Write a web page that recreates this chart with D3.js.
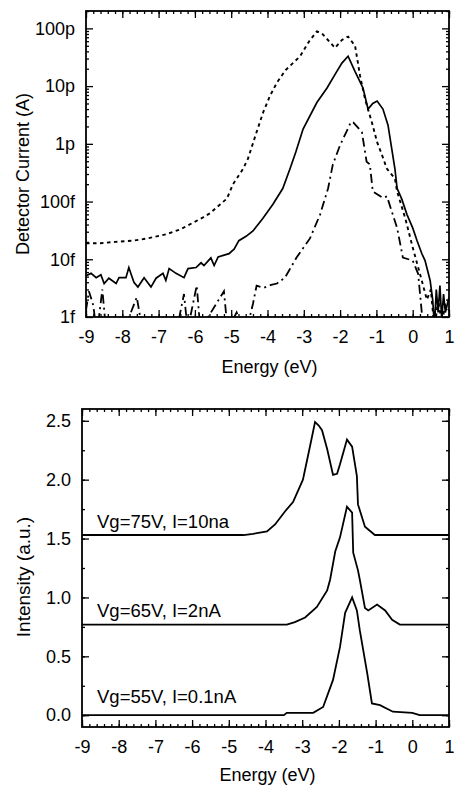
<!DOCTYPE html>
<html>
<head>
<meta charset="utf-8">
<script src="https://cdn.jsdelivr.net/npm/d3@7"></script>
<style>
  body { margin: 0; background: #fff; }
  svg { display: block; font-family: "Liberation Sans", Arial, sans-serif; }
  .tick text { font-size: 18px; fill: #000; }
</style>
</head>
<body>
<svg id="chart" width="454" height="785"></svg>
<script>
var width = 454,
    height = 785;

// x axis (both panels)
const energyTicks = [-9, -8, -7, -6, -5, -4, -3, -2, -1, 0, 1];

// top panel: log current ticks
const currentTicks = [1e-15, 1e-14, 1e-13, 1e-12, 1e-11, 1e-10];
const currentLabels = ["1f", "10f", "100f", "1p", "10p", "100p"];

// top panel series [energy eV, current A]
const current75 = [
    [-9, 19e-15], [-8.6, 19e-15], [-8.2, 20e-15], [-7.7, 21e-15], [-7.3, 23e-15], [-6.8, 27e-15],
    [-6.4, 33e-15], [-6.05, 43e-15], [-5.8, 52e-15], [-5.58, 63e-15], [-5.3, 90e-15], [-5.12, 112e-15],
    [-4.95, 200e-15], [-4.67, 370e-15], [-4.54, 550e-15], [-4.3, 1.6e-12], [-4.12, 3.5e-12],
    [-3.93, 6.8e-12], [-3.74, 11.5e-12], [-3.5, 19e-12], [-3.3, 25e-12], [-3.1, 33e-12],
    [-2.85, 60e-12], [-2.64, 89e-12], [-2.5, 82e-12], [-2.42, 72e-12], [-2.14, 46e-12],
    [-1.95, 63e-12], [-1.78, 72e-12], [-1.64, 55e-12], [-1.59, 51e-12], [-1.45, 15e-12],
    [-1.31, 5.9e-12], [-1.12, 2.3e-12], [-0.98, 1.07e-12], [-0.85, 650e-15], [-0.71, 370e-15],
    [-0.49, 250e-15], [-0.43, 150e-15], [-0.2, 50e-15], [0, 16e-15], [0.2, 5.6e-15], [0.39, 2e-15],
    [0.5, 3e-15], [0.6, 0.6e-15], [0.7, 2e-15], [0.8, 0.8e-15], [0.9, 1.6e-15], [1, 1.3e-15]
];
const current65 = [
    [-9, 5.2e-15], [-8.86, 5.7e-15], [-8.72, 4.8e-15], [-8.59, 5.4e-15], [-8.5, 3.8e-15], [-8.37, 4.7e-15],
    [-8.17, 3.8e-15], [-8.09, 4.8e-15], [-7.9, 4.8e-15], [-7.82, 7.2e-15], [-7.68, 4.0e-15],
    [-7.57, 3.3e-15], [-7.4, 4.8e-15], [-7.21, 3.3e-15], [-7.07, 4.7e-15], [-6.88, 5.7e-15],
    [-6.8, 4.3e-15], [-6.71, 6.9e-15], [-6.52, 5.7e-15], [-6.3, 4.8e-15], [-6.19, 6.9e-15],
    [-5.97, 7.2e-15], [-5.83, 8.7e-15], [-5.75, 7.8e-15], [-5.56, 10.6e-15], [-5.47, 7.8e-15],
    [-5.36, 11e-15], [-5.06, 12.5e-15], [-4.92, 15e-15], [-4.79, 21e-15], [-4.59, 25e-15],
    [-4.4, 31e-15], [-4.13, 51e-15], [-3.85, 90e-15], [-3.58, 168e-15], [-3.38, 370e-15],
    [-3.22, 720e-15], [-3.02, 1.8e-12], [-2.64, 5.2e-12], [-2.36, 9.3e-12], [-2.09, 18e-12],
    [-1.95, 25e-12], [-1.78, 33e-12], [-1.59, 18e-12], [-1.37, 9.3e-12], [-1.23, 4e-12],
    [-1.1, 5e-12], [-0.98, 5.5e-12], [-0.82, 4e-12], [-0.68, 2.1e-12], [-0.49, 370e-15],
    [-0.43, 170e-15], [-0.3, 110e-15], [-0.16, 60e-15], [0, 35e-15], [0.12, 21e-15],
    [0.25, 12.6e-15], [0.34, 9.5e-15], [0.48, 4.3e-15], [0.55, 2e-15], [0.6, 0.7e-15],
    [0.65, 3e-15], [0.7, 1.2e-15], [0.75, 3.5e-15], [0.8, 0.9e-15], [0.85, 2.5e-15],
    [0.9, 1.2e-15], [1, 2.2e-15]
];
const current55 = [
    [-9, 1.3e-15], [-8.92, 2.8e-15], [-8.8, 1.6e-15], [-8.7, 0.5e-15], [-8.55, 3e-15], [-8.45, 0.6e-15],
    [-8.0, 0.5e-15], [-7.6, 2.2e-15], [-7.45, 0.6e-15], [-6.5, 0.6e-15], [-6.3, 2.5e-15],
    [-6.2, 0.6e-15], [-5.95, 3.5e-15], [-5.85, 0.6e-15], [-5.2, 2.8e-15], [-5.1, 0.6e-15],
    [-4.85, 1.2e-15], [-4.6, 0.5e-15], [-4.4, 1.7e-15], [-4.3, 3.5e-15], [-4.1, 3.2e-15],
    [-3.9, 3.6e-15], [-3.74, 3.8e-15], [-3.52, 4.8e-15], [-3.2, 10.7e-15], [-2.83, 23e-15],
    [-2.55, 60e-15], [-2.33, 170e-15], [-2.2, 440e-15], [-2.0, 950e-15], [-1.81, 1.7e-12],
    [-1.7, 2.4e-12], [-1.64, 2.35e-12], [-1.4, 1.6e-12], [-1.27, 490e-15], [-1.18, 440e-15],
    [-1.1, 150e-15], [-0.82, 115e-15], [-0.71, 123e-15], [-0.43, 35e-15], [-0.27, 10.7e-15],
    [0, 9.5e-15], [0.15, 5.6e-15], [0.25, 1.2e-15], [0.35, 0.3e-15]
];

// bottom panel: intensity (offset spectra)
const intensityTicks = [0, 0.5, 1.0, 1.5, 2.0, 2.5];
const intensity75 = [
    [-9, 1.53], [-4.6, 1.53], [-4.34, 1.54], [-3.96, 1.56], [-3.74, 1.62], [-3.47, 1.73], [-3.25, 1.81],
    [-2.98, 2.0], [-2.79, 2.28], [-2.65, 2.49], [-2.55, 2.46], [-2.46, 2.42], [-2.32, 2.26], [-2.16, 2.04],
    [-2.05, 2.05], [-1.97, 2.13], [-1.78, 2.34], [-1.64, 2.28], [-1.51, 2.03], [-1.48, 1.79],
    [-1.29, 1.6], [-1.02, 1.53], [1, 1.53]
];
const intensity65 = [
    [-9, 0.77], [-3.42, 0.77], [-3.2, 0.79], [-2.92, 0.83], [-2.6, 0.92], [-2.32, 1.06], [-2.24, 1.15],
    [-2.1, 1.39], [-1.97, 1.51], [-1.78, 1.77], [-1.64, 1.72], [-1.61, 1.38], [-1.48, 1.23],
    [-1.43, 1.15], [-1.29, 0.91], [-1.2, 0.89], [-0.96, 0.94], [-0.74, 0.89], [-0.55, 0.81],
    [-0.34, 0.77], [1, 0.77]
];
const intensity55 = [
    [-9, 0], [-3.5, 0], [-3.42, 0.02], [-2.7, 0.02], [-2.43, 0.07], [-2.16, 0.3], [-1.97, 0.58],
    [-1.83, 0.87], [-1.64, 1.0], [-1.51, 0.89], [-1.43, 0.72], [-1.23, 0.36], [-1.1, 0.1],
    [-0.88, 0.085], [-0.53, 0.03], [0, 0.02], [0.2, 0], [1, 0]
];
const curveLabels = ["Vg=75V, I=10na", "Vg=65V, I=2nA", "Vg=55V, I=0.1nA"];

var svg = d3.select("#chart");

// panel boxes
const boxTop = { left: 86, right: 449, top: 11, bottom: 317 };
const boxBot = { left: 82, right: 449, top: 409, bottom: 727 };

var xT = d3.scaleLinear().domain([-9, 1]).range([boxTop.left, boxTop.right]);
var yT = d3.scaleLog().domain([1e-15, 2e-10]).range([boxTop.bottom, boxTop.top]);
var xB = d3.scaleLinear().domain([-9, 1]).range([boxBot.left, boxBot.right]);
var yB = d3.scaleLinear().domain([-0.1, 2.6]).range([boxBot.bottom, boxBot.top]);

function minorRange(lo, hi, step) {
    var out = [];
    for (var v = lo; v <= hi + 1e-9; v += step) out.push(+v.toFixed(3));
    return out;
}
var energyMinor = minorRange(-9, 1, 0.2);
var logMinor = [];
for (var e = -15; e < -10; e++) {
    for (var k = 2; k <= 9; k++) logMinor.push(k * Math.pow(10, e));
}
logMinor.push(2e-10);
var intensityMinor = minorRange(0, 2.5, 0.25);

// plain hyphen for negatives, like the original figure
function energyFmt(d) { return String(d); }

function drawFrame(g, box, xs, ys, yMajor, yMinor, yFmt) {
    // minor ticks
    g.append("g").attr("transform", "translate(0," + box.bottom + ")")
        .call(d3.axisBottom(xs).tickValues(energyMinor).tickSize(-3).tickFormat(""));
    g.append("g").attr("transform", "translate(0," + box.top + ")")
        .call(d3.axisTop(xs).tickValues(energyMinor).tickSize(-3).tickFormat(""));
    g.append("g").attr("transform", "translate(" + box.left + ",0)")
        .call(d3.axisLeft(ys).tickValues(yMinor).tickSize(-3).tickFormat(""));
    g.append("g").attr("transform", "translate(" + box.right + ",0)")
        .call(d3.axisRight(ys).tickValues(yMinor).tickSize(-3).tickFormat(""));
    // major ticks
    g.append("g").attr("transform", "translate(0," + box.bottom + ")")
        .call(d3.axisBottom(xs).tickValues(energyTicks).tickSizeInner(-7).tickSizeOuter(0).tickPadding(13)
            .tickFormat(energyFmt));
    g.append("g").attr("transform", "translate(0," + box.top + ")")
        .call(d3.axisTop(xs).tickValues(energyTicks).tickSize(-7).tickFormat(""));
    g.append("g").attr("transform", "translate(" + box.left + ",0)")
        .call(d3.axisLeft(ys).tickValues(yMajor).tickSizeInner(-7).tickSizeOuter(0).tickPadding(11)
            .tickFormat(yFmt));
    g.append("g").attr("transform", "translate(" + box.right + ",0)")
        .call(d3.axisRight(ys).tickValues(yMajor).tickSize(-7).tickFormat(""));
    g.selectAll(".domain").remove();
    g.selectAll(".tick line").attr("stroke", "#000").attr("stroke-width", 1.3);
    g.selectAll(".tick text").attr("font-family", null).attr("font-size", null);
    g.append("rect")
        .attr("x", box.left).attr("y", box.top)
        .attr("width", box.right - box.left).attr("height", box.bottom - box.top)
        .attr("fill", "none").attr("stroke", "#000").attr("stroke-width", 1.8);
}

// ---- top panel ----
svg.append("clipPath").attr("id", "clipTop").append("rect")
    .attr("x", boxTop.left).attr("y", boxTop.top)
    .attr("width", boxTop.right - boxTop.left).attr("height", boxTop.bottom - boxTop.top);

var lineT = d3.line()
    .x(function (d) { return xT(d[0]); })
    .y(function (d) { return yT(Math.max(d[1], 3e-16)); });

var gTop = svg.append("g");
var curvesTop = gTop.append("g").attr("clip-path", "url(#clipTop)");
curvesTop.append("path").datum(current75).attr("d", lineT)
    .attr("fill", "none").attr("stroke", "#000").attr("stroke-width", 1.9)
    .attr("stroke-dasharray", "3.5,3.5");
curvesTop.append("path").datum(current65).attr("d", lineT)
    .attr("fill", "none").attr("stroke", "#000").attr("stroke-width", 1.7);
curvesTop.append("path").datum(current55).attr("d", lineT)
    .attr("fill", "none").attr("stroke", "#000").attr("stroke-width", 1.8)
    .attr("stroke-dasharray", "9,4,2,4");

drawFrame(gTop, boxTop, xT, yT, currentTicks, logMinor, function (d, i) { return currentLabels[i]; });

gTop.append("text")
    .attr("x", (boxTop.left + boxTop.right) / 2 + 2).attr("y", 373)
    .attr("text-anchor", "middle").attr("font-size", 18)
    .text("Energy (eV)");
gTop.append("text")
    .attr("transform", "translate(29,174) rotate(-90)")
    .attr("text-anchor", "middle").attr("font-size", 18)
    .text("Detector Current (A)");

// ---- bottom panel ----
var lineB = d3.line()
    .x(function (d) { return xB(d[0]); })
    .y(function (d) { return yB(d[1]); });

var gBot = svg.append("g");
[intensity75, intensity65, intensity55].forEach(function (series) {
    gBot.append("path").datum(series).attr("d", lineB)
        .attr("fill", "none").attr("stroke", "#000").attr("stroke-width", 1.8);
});

drawFrame(gBot, boxBot, xB, yB, intensityTicks, intensityMinor, d3.format(".1f"));

var labelY = [528, 617, 703];
curveLabels.forEach(function (t, i) {
    gBot.append("text")
        .attr("x", 97).attr("y", labelY[i])
        .attr("font-size", 18.5)
        .text(t);
});

gBot.append("text")
    .attr("x", (boxBot.left + boxBot.right) / 2 + 2).attr("y", 781)
    .attr("text-anchor", "middle").attr("font-size", 18)
    .text("Energy (eV)");
gBot.append("text")
    .attr("transform", "translate(30,577) rotate(-90)")
    .attr("text-anchor", "middle").attr("font-size", 19)
    .text("Intensity (a.u.)");
</script>
</body>
</html>
